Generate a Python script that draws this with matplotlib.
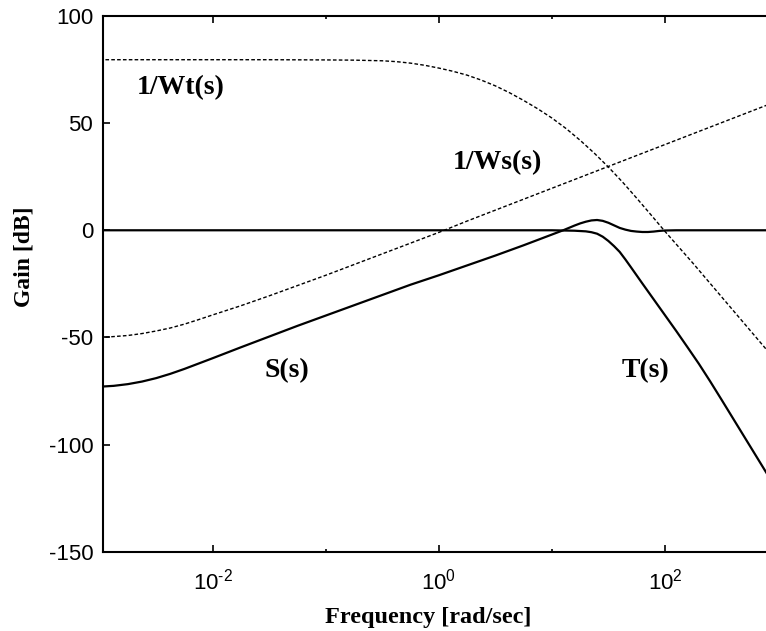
import numpy as np
import matplotlib
matplotlib.use("Agg")
import matplotlib.pyplot as plt
from matplotlib.ticker import FixedLocator, NullFormatter, FixedFormatter

plt.rcParams['font.family'] = ['Liberation Sans', 'DejaVu Sans']
plt.rcParams['mathtext.fontset'] = 'custom'
plt.rcParams['mathtext.rm'] = 'Liberation Sans'
plt.rcParams['mathtext.it'] = 'Liberation Sans'
plt.rcParams['mathtext.bf'] = 'Liberation Sans'
plt.rcParams['axes.unicode_minus'] = False

# log10 of frequency (rad/sec) for each curve, with gains in dB
wt_logw = [-3.0, -2.5, -2.0, -1.5, -1.0, -0.75, -0.5, -0.375, -0.25, -0.125, 0.0, 0.125,
           0.25, 0.375, 0.5, 0.625, 0.75, 0.875, 1.0, 1.125, 1.25, 1.375, 1.5, 1.625,
           1.75, 1.875, 2.0, 2.25, 2.5, 2.75, 3.0]
wt_gain = [79.6, 79.6, 79.6, 79.6, 79.5, 79.4, 79.1, 78.7, 78.0, 77.0, 75.7, 74.2,
           72.4, 70.1, 67.4, 64.2, 60.6, 56.7, 52.4, 47.5, 42.0, 36.0, 29.5, 22.5,
           15.0, 7.3, -0.5, -15.5, -31.0, -46.5, -62.0]

ws_logw = [-3.0, -2.875, -2.75, -2.625, -2.5, -2.375, -2.25, -2.125, -2.0, -1.75, -1.5,
           -1.25, -1.0, -0.75, -0.5, -0.25, 0.0, 0.25, 0.5, 0.75, 1.0, 1.25, 1.5, 1.75,
           2.0, 2.25, 2.5, 2.75, 3.0]
ws_gain = [-50.1, -49.6, -49.1, -48.2, -47.0, -45.6, -43.8, -41.7, -39.5, -35.2, -30.6,
           -25.8, -21.0, -16.0, -11.0, -6.0, -1.0, 4.3, 9.4, 14.5, 19.6, 24.7, 29.8, 34.9,
           40.0, 45.1, 50.2, 55.3, 60.4]

s_logw = [-3.0, -2.875, -2.75, -2.625, -2.5, -2.375, -2.25, -2.125, -2.0, -1.75, -1.5,
          -1.25, -1.0, -0.75, -0.5, -0.25, 0.0, 0.25, 0.5, 0.75, 1.0, 1.05, 1.1, 1.15,
          1.2, 1.25, 1.3, 1.35, 1.4, 1.45, 1.5, 1.55, 1.6, 1.65, 1.7, 1.75, 1.8, 1.85,
          1.9, 1.95, 2.0, 2.1, 2.5, 3.0]
s_gain = [-73.0, -72.6, -71.8, -70.6, -69.0, -67.0, -64.7, -62.2, -59.7, -54.6, -49.6,
          -44.6, -39.8, -35.0, -30.2, -25.4, -21.0, -16.4, -11.8, -7.0, -2.0, -1.0, 0.0, 1.1,
          2.2, 3.2, 4.0, 4.6, 4.8, 4.4, 3.5, 2.3, 1.1, 0.3, -0.3, -0.6, -0.8, -0.8,
          -0.6, -0.3, -0.1, 0.0, 0.0, 0.0]

t_logw = [-3.0, -2.0, -1.0, 0.0, 0.5, 1.0, 1.1, 1.2, 1.3, 1.35, 1.4, 1.45, 1.5, 1.55,
          1.6, 1.65, 1.7, 1.8, 1.9, 2.0, 2.1, 2.2, 2.3, 2.4, 2.5, 2.6, 2.7, 2.8, 2.9, 3.0]
t_gain = [0.0, 0.0, 0.0, 0.0, 0.0, 0.0, -0.1, -0.2, -0.5, -0.9, -1.6, -3.0, -5.0, -7.4,
          -10.1, -13.6, -17.3, -24.8, -32.2, -39.6, -47.0, -54.6, -62.3, -70.5, -79.0,
          -87.6, -96.2, -104.8, -113.4, -122.0]

labels = ["1/Wt(s)", "1/Ws(s)", "S(s)", "T(s)"]
label_logw = [-2.28, 0.52, -1.34, 1.83]
label_gain = [66.4, 31.4, -65.6, -65.6]

xtick_vals = [1e-2, 1e0, 1e2]
xtick_text = [r'$10^{\text{-}2}$', r'$10^{0}$', r'$10^{2}$']
ytick_vals = [-150, -100, -50, 0, 50, 100]

W, H = 766, 631
fig = plt.figure(figsize=(W / 100, H / 100), dpi=100)
left_px, right_px, top_px, bottom_px = 103, 778, 16, 551.7
ax = fig.add_axes([left_px / W, 1 - bottom_px / H, (right_px - left_px) / W, (bottom_px - top_px) / H])

dash = (0, (2.6, 1.6))
ax.plot(10 ** np.array(wt_logw), wt_gain, color='black', lw=1.0, linestyle=dash)
ax.plot(10 ** np.array(ws_logw), ws_gain, color='black', lw=1.0, linestyle=dash)
ax.plot(10 ** np.array(s_logw), s_gain, color='black', lw=1.6)
ax.plot(10 ** np.array(t_logw), t_gain, color='black', lw=1.6)

ax.set_xscale('log')
ax.set_xlim(10 ** -2.97, 1e3)
ax.set_ylim(-150, 100)

ax.xaxis.set_major_locator(FixedLocator(xtick_vals))
ax.xaxis.set_major_formatter(FixedFormatter(xtick_text))
ax.xaxis.set_minor_locator(FixedLocator([1e-3, 1e-1, 1e1, 1e3]))
ax.xaxis.set_minor_formatter(NullFormatter())
ax.set_yticks(ytick_vals)

ax.tick_params(axis='both', which='major', direction='in', length=5, width=1.2,
               labelsize=16, top=True, right=True, pad=7)
ax.tick_params(axis='x', which='minor', direction='in', length=2.5, width=1.2, top=True)
ax.tick_params(axis='x', which='major', pad=12)

for sp in ax.spines.values():
    sp.set_linewidth(1.5)

serif = ['Liberation Serif', 'DejaVu Serif']
for txt, lx, ly in zip(labels, label_logw, label_gain):
    ax.text(10 ** lx, ly, txt, family=serif, fontweight='bold', fontsize=20,
            ha='center', va='center')

fig.text(24 / W, 1 - 257 / H, "Gain [dB]", family=serif, fontweight='bold', fontsize=17,
         rotation=90, ha='center', va='center')
fig.text(428 / W, 1 - 617 / H, "Frequency [rad/sec]", family=serif, fontweight='bold',
         fontsize=17.5, ha='center', va='center')

fig.savefig("out.png", dpi=100)
